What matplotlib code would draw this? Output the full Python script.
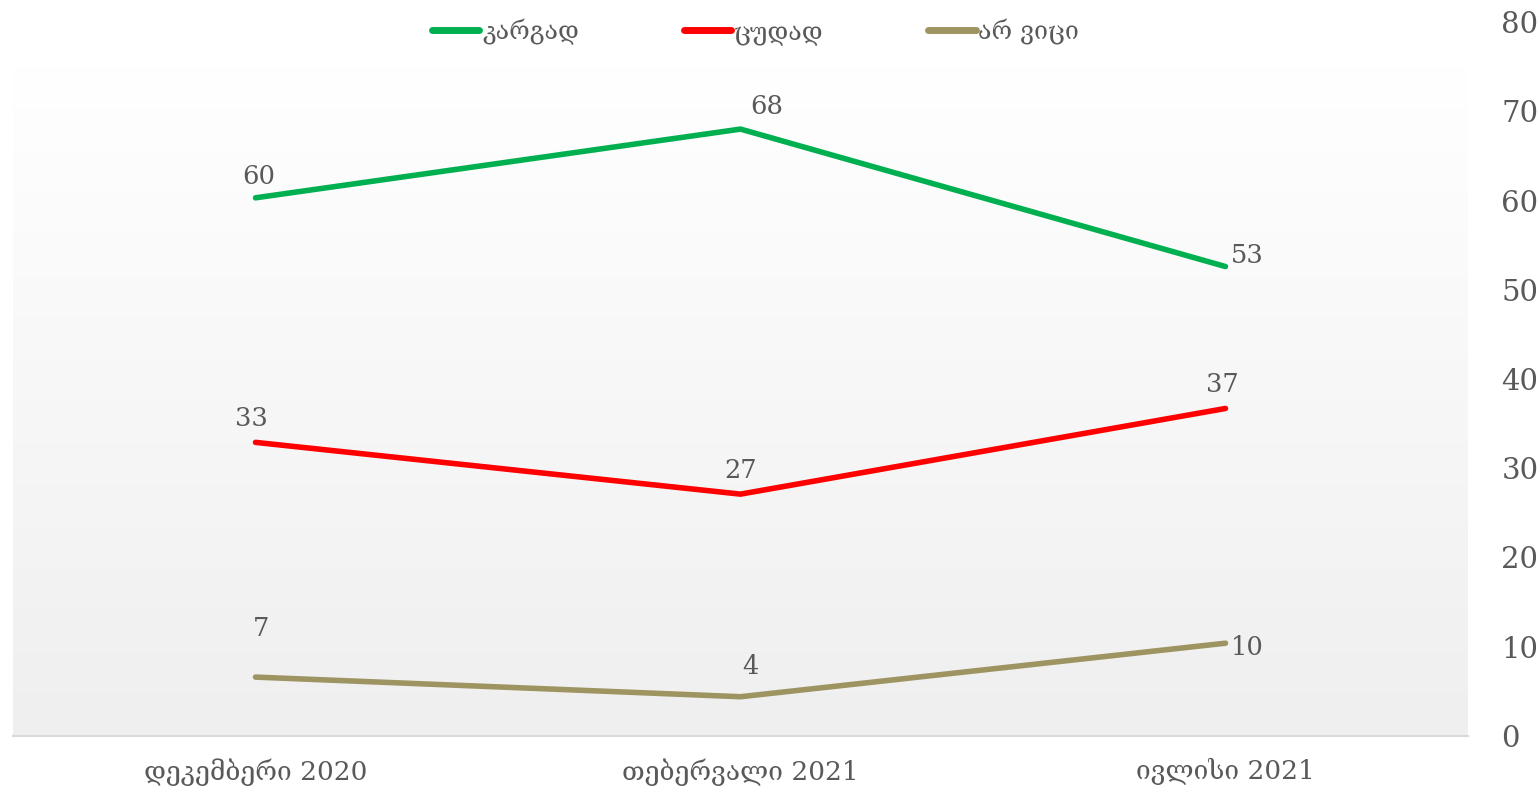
import matplotlib
matplotlib.use("Agg")
import matplotlib.pyplot as plt
import numpy as np
from matplotlib.colors import LinearSegmentedColormap

categories = ["დეკემბერი 2020", "თებერვალი 2021", "ივლისი 2021"]
series_names = ["კარგად", "ცუდად", "არ ვიცი"]
good = [60.3, 68.0, 52.6]
bad = [32.9, 27.1, 36.7]
dontknow = [6.6, 4.4, 10.4]
yticks = [0, 10, 20, 30, 40, 50, 60, 70, 80]

colors = ["#00B050", "#FF0000", "#9E9462"]
text_color = "#595959"
fam = ["DejaVu Serif", "DejaVu Sans"]

# label offsets in points (style)
offsets = [
    [(2, 6), (19, 7), (16, -1)],
    [(-3, 8), (0, 8), (-2, 8)],
    [(4, 26), (7, 13), (16, -12)],
]

fig = plt.figure(figsize=(15.39, 7.88), dpi=100)
ax = fig.add_axes([13 / 1539, 52 / 788, (1468 - 13) / 1539, (736 - 22) / 788])

x = np.arange(len(categories))
ax.set_xlim(-0.5, 2.5)
ax.set_ylim(0, 80)

grad = np.linspace(0, 1, 256).reshape(-1, 1)
cmap = LinearSegmentedColormap.from_list("g", ["#EFEFEF", "#FFFFFF"])
ax.imshow(grad, aspect="auto", cmap=cmap, origin="lower",
          extent=(-0.5, 2.5, 0, 75), zorder=0)

all_series = [good, bad, dontknow]
for vals, name, c, offs in zip(all_series, series_names, colors, offsets):
    ax.plot(x, vals, color=c, lw=4.0, solid_capstyle="round", label=name, zorder=3)
    for xi, v, o in zip(x, vals, offs):
        ax.annotate(f"{round(v):d}", (xi, v), xytext=o, textcoords="offset points",
                    ha="center", va="bottom", fontsize=18.5, color=text_color,
                    family=fam, zorder=4)

ax.set_xticks(x)
ax.set_xticklabels(categories, fontsize=19, color=text_color, family=fam)
ax.yaxis.tick_right()
ax.set_yticks(yticks)
ax.set_yticklabels([str(t) for t in yticks], fontsize=21, color=text_color, family=fam)
ax.tick_params(axis="both", length=0)
ax.tick_params(axis="y", pad=24)
ax.tick_params(axis="x", pad=16)
for s in ["top", "left", "right"]:
    ax.spines[s].set_visible(False)
ax.spines["bottom"].set_color("#D9D9D9")
ax.spines["bottom"].set_linewidth(1.5)
ax.set_facecolor("white")

leg = fig.legend(loc="upper center", bbox_to_anchor=(0.491, 1.005), ncol=3, frameon=False,
                 handlelength=1.9, handletextpad=0.1, columnspacing=4.2,
                 prop={"family": fam, "size": 18})
for t in leg.get_texts():
    t.set_color(text_color)
for h in leg.legend_handles:
    h.set_linewidth(5)

fig.savefig("out.png", dpi=100, facecolor="white")
